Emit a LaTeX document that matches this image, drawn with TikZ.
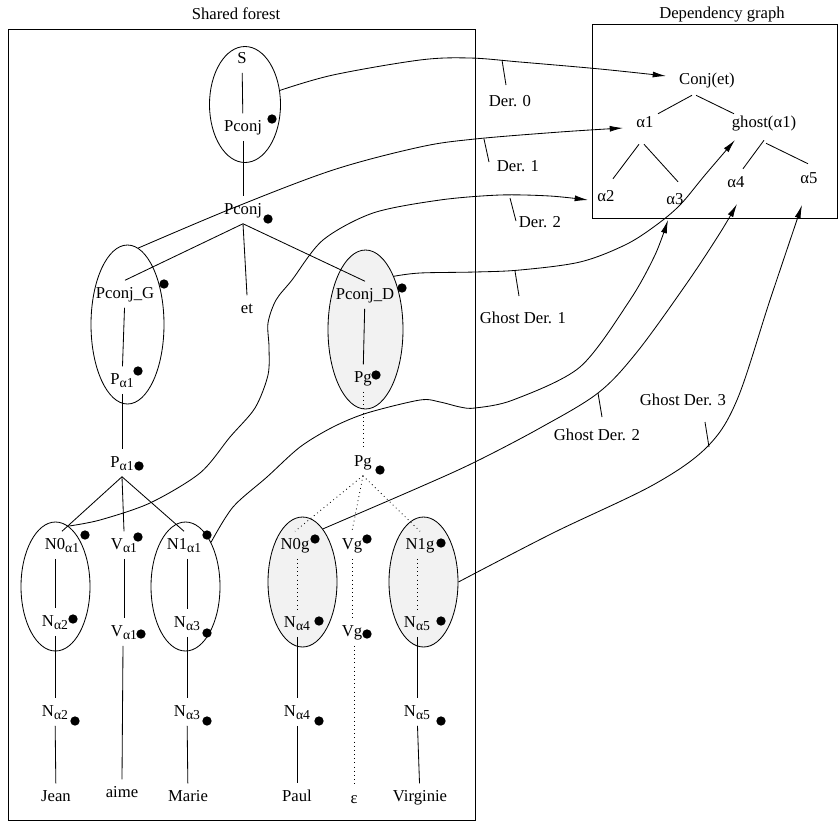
\documentclass[tikz,border=0pt]{standalone}
\usepackage{fontspec}
\setmainfont{Liberation Serif}
\usetikzlibrary{shapes.geometric,arrows.meta,calc}
\newcommand\sbs[1]{\raisebox{-0.45ex}{\fontsize{8.2}{9}\selectfont #1}}
\begin{document}
\begin{tikzpicture}[x=0.6pt,y=-0.6pt,line width=0.5pt,
  lab/.style={inner xsep=2pt,inner ysep=3.5pt,text height=7pt,text depth=2pt},
  txt/.style={inner sep=1pt},
  dotn/.style={circle,fill=black,inner sep=0pt,minimum size=5.6pt},
  ell/.style={ellipse,draw,inner sep=0pt},
  gfill/.style={fill=black!5},
  arr/.style={-{Latex[length=8pt,width=3.6pt]}},
  dotl/.style={dotted},
  tick/.style={line width=0.5pt}]
\useasboundingbox (0,0) rectangle (838,825);

% frames and titles
\node[txt] (tsf) at (236,14) {Shared forest};
\node[txt] (tdg) at (722,15) {Dependency graph};
\draw (8,29) rectangle (475,820);
\draw (592,24) rectangle (837,218);

% ellipses
\node[ell,minimum width=42.6pt,minimum height=69.6pt] (eS) at (245,104.5) {};
\node[ell,minimum width=43.8pt,minimum height=95.4pt] (eG) at (127.5,324.5) {};
\node[ell,gfill,minimum width=45pt,minimum height=95.4pt] (eD) at (365.5,329.5) {};
\node[ell,minimum width=41.4pt,minimum height=77.4pt] (eN0) at (55.5,586.5) {};
\node[ell,minimum width=41.4pt,minimum height=77.4pt] (eN1) at (185.5,586.5) {};
\node[ell,gfill,minimum width=41.4pt,minimum height=78pt] (eN0g) at (302.5,582) {};
\node[ell,gfill,minimum width=41.4pt,minimum height=78pt] (eN1g) at (423.5,582) {};

% tree labels
\node[lab] (S) at (242,59) {S};
\node[lab] (pc1) at (243,127) {Pconj};
\node[lab] (pc2) at (243,210) {Pconj};
\node[lab] (pG) at (125,294) {Pconj\_G};
\node[lab] (et) at (247,309) {et};
\node[lab] (pD) at (365,295) {Pconj\_D};
\node[lab] (pa1) at (122,380) {P\sbs{α1}};
\node[lab] (pa2) at (122,463) {P\sbs{α1}};
\node[lab] (pg1) at (363,378) {Pg};
\node[lab] (pg2) at (363,462) {Pg};
\node[lab] (n0) at (62,545) {N0\sbs{α1}};
\node[lab] (v1) at (124,545) {V\sbs{α1}};
\node[lab] (n1) at (184,545) {N1\sbs{α1}};
\node[lab] (n0g) at (295,545) {N0g};
\node[lab] (vg1) at (352,545) {Vg};
\node[lab] (n1g) at (420,545) {N1g};
\node[lab] (na2) at (55,622) {N\sbs{α2}};
\node[lab] (v2) at (124,632) {V\sbs{α1}};
\node[lab] (na3) at (187,623) {N\sbs{α3}};
\node[lab] (na4) at (297,623) {N\sbs{α4}};
\node[lab] (vg2) at (352,632) {Vg};
\node[lab] (na5) at (417,623) {N\sbs{α5}};
\node[lab] (nb2) at (55,712) {N\sbs{α2}};
\node[lab] (nb3) at (187,712) {N\sbs{α3}};
\node[lab] (nb4) at (297,712) {N\sbs{α4}};
\node[lab] (nb5) at (417,712) {N\sbs{α5}};
\node[lab] (jean) at (56,797) {Jean};
\node[lab] (aime) at (122,793) {aime};
\node[lab] (marie) at (188,797) {Marie};
\node[lab] (paul) at (297,797) {Paul};
\node[lab] (eps) at (354,799) {ε};
\node[lab] (virg) at (420,797) {Virginie};

% dots
\foreach \p/\n in {{(272,119)}/d1,{(268,219)}/d2,{(164,284)}/d3,{(402,288)}/d4,
  {(138,371)}/d5,{(139,466)}/d6,{(376,375)}/d7,{(380,470)}/d8,
  {(85,535)}/d9,{(138,537)}/d10,{(207,535)}/d11,{(315,539)}/d12,{(367,539)}/d13,{(441,543)}/d14,
  {(73,619)}/d15,{(141,634)}/d16,{(207,633)}/d17,{(319,621)}/d18,{(367,634)}/d19,{(441,621)}/d20,
  {(75,721)}/d21,{(207,721)}/d22,{(319,721)}/d23,{(441,721)}/d24}
  \node[dotn] (\n) at \p {};

% tree edges
\draw (S) -- (pc1);
\draw (pc1) -- (pc2);
\draw (pc2.south) -- (pG.north);
\draw (pc2.south) -- (et.north);
\draw (pc2.south) -- (pD.north);
\draw (pG) -- (pa1);
\draw (pa1) -- (pa2);
\draw (pa2.south) -- (n0.north);
\draw (pa2.south) -- (v1.north);
\draw (pa2.south) -- (n1.north);
\draw (n0.south -| na2) -- (na2.north);
\draw (v1.south -| v2) -- (v2.north);
\draw (n1.south -| na3) -- (na3.north);
\draw (na2) -- (nb2);
\draw (nb2) -- (jean);
\draw ($(v2.south)+(-1,0)$) -- (aime.north);
\draw (na3) -- (nb3);
\draw (nb3) -- (marie);
\draw (pD) -- (pg1);
\draw[dotl] (pg1) -- (pg2);
\draw[dotl] (pg2.south) -- (n0g.north);
\draw[dotl] (pg2.south) -- (vg1.north);
\draw[dotl] (pg2.south) -- (n1g.north);
\draw[dotl] (n0g.south -| na4) -- (na4.north);
\draw[dotl] (vg1) -- (vg2);
\draw[dotl] (n1g.south -| na5) -- (na5.north);
\draw (na4) -- (nb4);
\draw (nb4) -- (paul);
\draw[dotl] (vg2.south -| eps) -- (eps.north);
\draw (na5) -- (nb5);
\draw (nb5) -- (virg);

% dependency graph
\node[lab] (conj) at (707,80) {Conj(et)};
\node[lab] (a1) at (645,123) {α1};
\node[lab] (ghost) at (764,123) {ghost(α1)};
\node[lab] (a2) at (606,197) {α2};
\node[lab] (a3) at (675,200) {α3};
\node[lab] (a4) at (736,183) {α4};
\node[lab] (a5) at (809,179) {α5};
\draw ($(conj.south)+(-15,1.5)$) -- ($(a1.north)+(13,4.5)$);
\draw ($(conj.south)+(-11,1.5)$) -- ($(ghost.north)+(-30,4.5)$);
\draw ($(a1.south)+(-6,7.5)$) -- ($(a2.north)+(7,-4.5)$);
\draw ($(a1.south)+(-1,7.5)$) -- ($(a3.north)+(3,-4.5)$);
\draw ($(ghost.south)+(0,3.5)$) -- ($(a4.north)+(7,-0.5)$);
\draw ($(ghost.south)+(2,6.5)$) -- ($(a5.north)+(-1,-1.5)$);

% arrow ends
\coordinate (e0) at ($(conj)+(-41,-4)$);
\coordinate (e1) at ($(a1)+(-22,5)$);
\coordinate (e2) at ($(a2)+(-18,3)$);
\coordinate (e3) at ($(ghost)+(-29,17)$);
\coordinate (e4) at ($(a3)+(-7,20)$);
\coordinate (e5) at ($(a4)+(1,21)$);
\coordinate (e6) at ($(a5)+(-7,26)$);

% derivation connectors
\draw[arr] plot[smooth,tension=0.55] coordinates {(eS.22) (333,75) (420,60) (470,58) (520,62) (600,69) (e0)};
\draw[arr] plot[smooth,tension=0.55] coordinates {(eG.82) (233,208) (333,170) (420,147) (475,139) (560,132) (e1)};
\draw[arr] plot[smooth,tension=0.5] coordinates {(eN0.78) (100,520) (150,503) (200,473) (230,437) (255,408) (268,375) (269,347) (268,323) (276,300) (292,280) (323,240) (373,213) (440,200) (500,195) (550,196) (e2)};
\draw[arr] plot[smooth,tension=0.55] coordinates {(eD.62) (420,273) (475,272) (520,270) (580,262) (625,245) (655,226) (680,205) (705,175) (e3)};
\draw[arr] plot[smooth,tension=0.5] coordinates {(eN1.60) (233,507) (267,477) (300,447) (333,427) (367,413) (420,400) (440,402) (460,407) (475,408) (513,400) (580,367) (630,300) (655,255) (e4)};
\draw[arr] plot[smooth,tension=0.55] coordinates {(eN0g.69) (420,487) (475,462) (540,428) (598,393) (637,352) (687,283) (720,233) (e5)};
\draw[arr] plot[smooth,tension=0.55] coordinates {(eN1g.east) (553,533) (653,485) (707,447) (737,400) (770,300) (e6)};

% derivation labels
\node[txt] (l0) at (510,101) {Der. 0};
\node[txt] (l1) at (518,166) {Der. 1};
\node[txt] (l2) at (540,222) {Der. 2};
\node[txt] (l3) at (523,318) {Ghost Der. 1};
\node[txt] (l4) at (597,435) {Ghost Der. 2};
\node[txt] (l5) at (683,400) {Ghost Der. 3};
\coordinate (k0) at (502,60);  \coordinate (k0b) at (506,85);
\coordinate (k1) at (484,139); \coordinate (k1b) at (489,162);
\coordinate (k2) at (510,198); \coordinate (k2b) at (516,221);
\coordinate (k3) at (515,271); \coordinate (k3b) at (519,296);
\coordinate (k4) at (598,393); \coordinate (k4b) at (602,417);
\coordinate (k5) at (709,447); \coordinate (k5b) at (705,422);
\draw[tick] (k0) -- (k0b);
\draw[tick] (k1) -- (k1b);
\draw[tick] (k2) -- (k2b);
\draw[tick] (k3) -- (k3b);
\draw[tick] (k4) -- (k4b);
\draw[tick] (k5) -- (k5b);
\end{tikzpicture}
\end{document}
